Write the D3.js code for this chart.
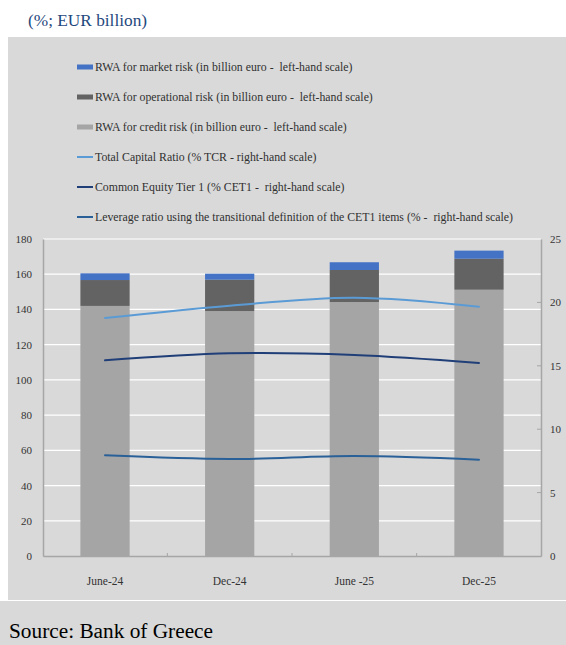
<!DOCTYPE html>
<html>
<head>
<meta charset="utf-8">
<script src="https://cdn.jsdelivr.net/npm/d3@7"></script>
<style>
  html, body { margin: 0; padding: 0; background: #ffffff; }
  svg { display: block; }
</style>
</head>
<body>
<svg id="chart" width="566" height="645"></svg>
<script>
// Periods on the horizontal axis
const categories = ["June-24", "Dec-24", "June -25", "Dec-25"];

// Risk-weighted assets, EUR billion (stacked bars, left-hand scale)
const rwaCredit      = [142.0, 139.1, 144.2, 151.2];
const rwaOperational = [14.7, 17.8, 18.2, 17.6];
const rwaMarket      = [3.8, 3.4, 4.4, 4.6];

// Capital ratios, % (lines, right-hand scale)
const totalCapitalRatio = [18.77, 19.74, 20.37, 19.66];
const cet1Ratio         = [15.43, 15.98, 15.85, 15.22];
const leverageRatio     = [7.94, 7.65, 7.89, 7.60];

// Axis ticks
const leftTicks  = [0, 20, 40, 60, 80, 100, 120, 140, 160, 180];
const rightTicks = [0, 5, 10, 15, 20, 25];

const legendItems = [
  { label: "RWA for market risk (in billion euro -  left-hand scale)", type: "rect", color: "#4472C4" },
  { label: "RWA for operational risk (in billion euro -  left-hand scale)", type: "rect", color: "#636363" },
  { label: "RWA for credit risk (in billion euro -  left-hand scale)", type: "rect", color: "#A5A5A5" },
  { label: "Total Capital Ratio (% TCR - right-hand scale)", type: "line", color: "#5B9BD5" },
  { label: "Common Equity Tier 1 (% CET1 -  right-hand scale)", type: "line", color: "#203F78" },
  { label: "Leverage ratio using the transitional definition of the CET1 items (% -  right-hand scale)", type: "line", color: "#2A6098" }
];

const FONT = '"Liberation Serif"';
const svg = d3.select("#chart");

// Panel backgrounds
svg.append("rect").attr("x", 8).attr("y", 37).attr("width", 558).attr("height", 563).attr("fill", "#D9D9D9");
svg.append("rect").attr("x", 0).attr("y", 601).attr("width", 566).attr("height", 44).attr("fill", "#D9D9D9");

// Heading
svg.append("text")
  .attr("x", 28).attr("y", 26)
  .attr("font-family", FONT)
  .attr("font-size", 17.3)
  .attr("fill", "#1F497D")
  .text("(%; EUR billion)");

// Plot geometry
const plot = { left: 43, right: 541, top: 239, bottom: 556 };

const x = d3.scaleBand()
  .domain(categories)
  .range([plot.left, plot.right])
  .paddingInner(0.605)
  .paddingOuter(0.3);

const yLeft = d3.scaleLinear().domain([0, 180]).range([plot.bottom, plot.top]);
const yRight = d3.scaleLinear().domain([0, 25]).range([plot.bottom, plot.top]);

// Gridlines
svg.append("g")
  .selectAll("line")
  .data(leftTicks.filter(d => d > 0))
  .join("line")
  .attr("x1", plot.left).attr("x2", plot.right)
  .attr("y1", d => yLeft(d)).attr("y2", d => yLeft(d))
  .attr("stroke", "#ffffff").attr("stroke-width", 1.2);

// Stacked bars
const stackData = categories.map((c, i) => ({
  category: c,
  credit: rwaCredit[i],
  operational: rwaOperational[i],
  market: rwaMarket[i]
}));
const stackKeys = ["credit", "operational", "market"];
const stackColors = { credit: "#A5A5A5", operational: "#636363", market: "#4472C4" };
const series = d3.stack().keys(stackKeys)(stackData);

svg.append("g")
  .selectAll("g")
  .data(series)
  .join("g")
  .attr("fill", d => stackColors[d.key])
  .selectAll("rect")
  .data(d => d)
  .join("rect")
  .attr("x", d => x(d.data.category))
  .attr("width", x.bandwidth())
  .attr("y", d => yLeft(d[1]))
  .attr("height", d => yLeft(d[0]) - yLeft(d[1]));

// Ratio lines
const cx = c => x(c) + x.bandwidth() / 2;
const lineGen = d3.line()
  .x(d => cx(d.category))
  .y(d => yRight(d.value))
  .curve(d3.curveCatmullRom.alpha(0));

const lineSeries = [
  { values: totalCapitalRatio, color: "#5B9BD5" },
  { values: cet1Ratio, color: "#203F78" },
  { values: leverageRatio, color: "#2A6098" }
];

svg.append("g")
  .selectAll("path")
  .data(lineSeries)
  .join("path")
  .attr("d", s => lineGen(s.values.map((v, i) => ({ category: categories[i], value: v }))))
  .attr("fill", "none")
  .attr("stroke", s => s.color)
  .attr("stroke-width", 2)
  .attr("stroke-linecap", "round");

// Left axis
const axisColor = "#A6A6A6";
const labelColor = "#333333";

const leftAxis = svg.append("g")
  .attr("transform", `translate(${plot.left},0)`)
  .call(d3.axisLeft(yLeft).tickValues(leftTicks).tickSize(0).tickPadding(11));
leftAxis.attr("font-family", FONT).attr("font-size", 11);
leftAxis.select(".domain").attr("stroke", axisColor).attr("stroke-width", 1.5);
leftAxis.selectAll("text").attr("fill", labelColor);

// Right axis
const rightAxis = svg.append("g")
  .attr("transform", `translate(${plot.right},0)`)
  .call(d3.axisRight(yRight).tickValues(rightTicks).tickSize(0).tickPadding(9));
rightAxis.attr("font-family", FONT).attr("font-size", 11);
rightAxis.select(".domain").attr("stroke", axisColor).attr("stroke-width", 1.5);
rightAxis.selectAll("text").attr("fill", labelColor);
rightAxis.append("g")
  .selectAll("line")
  .data(rightTicks.filter(d => d > 0 && d < 25))
  .join("line")
  .attr("x1", -4).attr("x2", 0)
  .attr("y1", d => yRight(d)).attr("y2", d => yRight(d))
  .attr("stroke", axisColor).attr("stroke-width", 1);

// Bottom axis
const bottomAxis = svg.append("g")
  .attr("transform", `translate(0,${plot.bottom})`)
  .call(d3.axisBottom(x).tickSize(0).tickPadding(21));
bottomAxis.attr("font-family", FONT).attr("font-size", 11.5);
bottomAxis.select(".domain").attr("stroke", axisColor).attr("stroke-width", 1.5);
bottomAxis.selectAll("text").attr("fill", labelColor);
bottomAxis.append("g")
  .selectAll("line")
  .data(categories.slice(1))
  .join("line")
  .attr("x1", d => x(d) - x.step() * x.paddingInner() / 2)
  .attr("x2", d => x(d) - x.step() * x.paddingInner() / 2)
  .attr("y1", 0).attr("y2", -3)
  .attr("stroke", axisColor);

// Legend
const legend = svg.append("g")
  .selectAll("g")
  .data(legendItems)
  .join("g")
  .attr("transform", (d, i) => `translate(77,${67 + i * 30})`);

legend.filter(d => d.type === "rect")
  .append("rect")
  .attr("x", 0).attr("y", -2.5).attr("width", 16).attr("height", 5)
  .attr("fill", d => d.color);

legend.filter(d => d.type === "line")
  .append("line")
  .attr("x1", 0).attr("x2", 16).attr("y1", 0).attr("y2", 0)
  .attr("stroke", d => d.color).attr("stroke-width", 2);

legend.append("text")
  .attr("x", 18).attr("y", 4)
  .attr("font-family", FONT)
  .attr("font-size", 11.8)
  .attr("fill", "#303030")
  .style("white-space", "pre")
  .text(d => d.label);

// Source note
svg.append("text")
  .attr("x", 9).attr("y", 638)
  .attr("font-family", FONT)
  .attr("font-size", 21.3)
  .attr("fill", "#000000")
  .text("Source: Bank of Greece");
</script>
</body>
</html>
